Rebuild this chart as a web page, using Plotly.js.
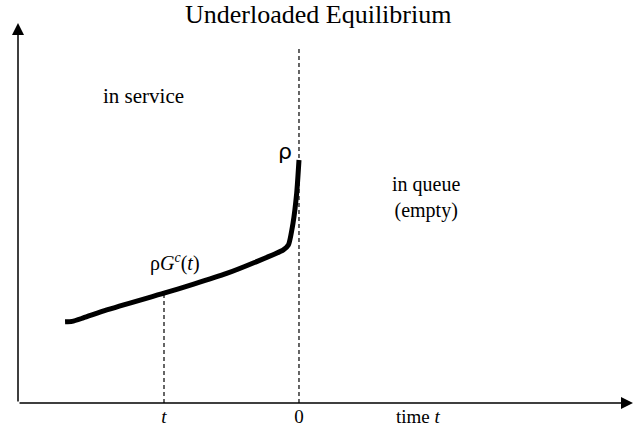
<!DOCTYPE html>
<html>
<head>
<meta charset="utf-8">
<script src="https://cdn.plot.ly/plotly-3.0.1.min.js"></script>
<style>html,body{margin:0;padding:0;background:#fff;}#chart{width:641px;height:436px;}</style>
</head>
<body>
<div id="chart"></div>
<script>
// Data (time in arbitrary units; 0 = now, -1 = elapsed time t)
const curveT = [-1.733, -1.68, -1.598, -1.424, -1.0, -0.78, -0.536, -0.33, -0.116, -0.079, -0.044, -0.017, 0];
const curveY = [0.334, 0.336, 0.350, 0.383, 0.452, 0.489, 0.533, 0.578, 0.630, 0.650, 0.741, 0.864, 1.0];
const markT = [-1, 0];
const markTop = [0.452, 1.457];
const tickVals = [-1, 0, 0.88];
const tickText = ['<i>t</i>', '0', 'time <i>t</i>'];
const xRange = [-2.0815, 2.489];
const yRange = [0, 1.576];
const serif = 'Liberation Serif, Times New Roman, serif';

const traces = [];
for (let i = 0; i < markT.length; i++) {
  traces.push({x: [markT[i], markT[i]], y: [0, markTop[i]], mode: 'lines',
    line: {color: '#000', width: 1.2, dash: '4px,3px'}, hoverinfo: 'skip'});
}
traces.push({x: curveT, y: curveY, mode: 'lines',
  line: {color: '#000', width: 5, shape: 'spline', smoothing: 0.6}, hoverinfo: 'skip'});

const layout = {
  width: 641, height: 436,
  margin: {l: 18, r: 6, t: 20, b: 33},
  paper_bgcolor: '#fff', plot_bgcolor: '#fff',
  showlegend: false,
  xaxis: {range: xRange, showgrid: false, zeroline: false, showline: false,
    tickmode: 'array', tickvals: tickVals, ticktext: tickText, ticks: '',
    tickfont: {family: serif, size: 19, color: '#000'}, fixedrange: true},
  yaxis: {range: yRange, showgrid: false, zeroline: false, showline: false,
    showticklabels: false, ticks: '', fixedrange: true},
  annotations: [
    {x: 2.474, y: 0, ax: xRange[0], ay: 0, xref: 'x', yref: 'y', axref: 'x', ayref: 'y',
      text: '', showarrow: true, arrowhead: 2, arrowsize: 1.6, arrowwidth: 1.5, arrowcolor: '#000', standoff: 0},
    {x: xRange[0], y: 1.564, ax: xRange[0], ay: 0, xref: 'x', yref: 'y', axref: 'x', ayref: 'y',
      text: '', showarrow: true, arrowhead: 2, arrowsize: 1.6, arrowwidth: 1.5, arrowcolor: '#000', standoff: 0},
    {xref: 'paper', yref: 'paper', x: 0.486, y: 1, xanchor: 'center', yanchor: 'middle',
      text: 'Underloaded Equilibrium', showarrow: false, yshift: 6,
      font: {family: serif, size: 26, color: '#000'}},
    {x: -1.155, y: 1.265, xref: 'x', yref: 'y', text: 'in service', showarrow: false,
      font: {family: serif, size: 21, color: '#000'}},
    {x: 0.94, y: 0.845, xref: 'x', yref: 'y', text: 'in queue<br>(empty)', showarrow: false,
      font: {family: serif, size: 20, color: '#000'}},
    {x: -0.1, y: 1.035, xref: 'x', yref: 'y', text: 'ρ', showarrow: false,
      font: {family: 'DejaVu Sans, sans-serif', size: 22, color: '#000'}},
    {x: -0.92, y: 0.58, xref: 'x', yref: 'y', text: 'ρ<i>G</i><sup><i>c</i></sup>(<i>t</i>)', showarrow: false,
      font: {family: serif, size: 20, color: '#000'}}
  ]
};
Plotly.newPlot('chart', traces, layout, {displayModeBar: false, staticPlot: true});
</script>
</body>
</html>
